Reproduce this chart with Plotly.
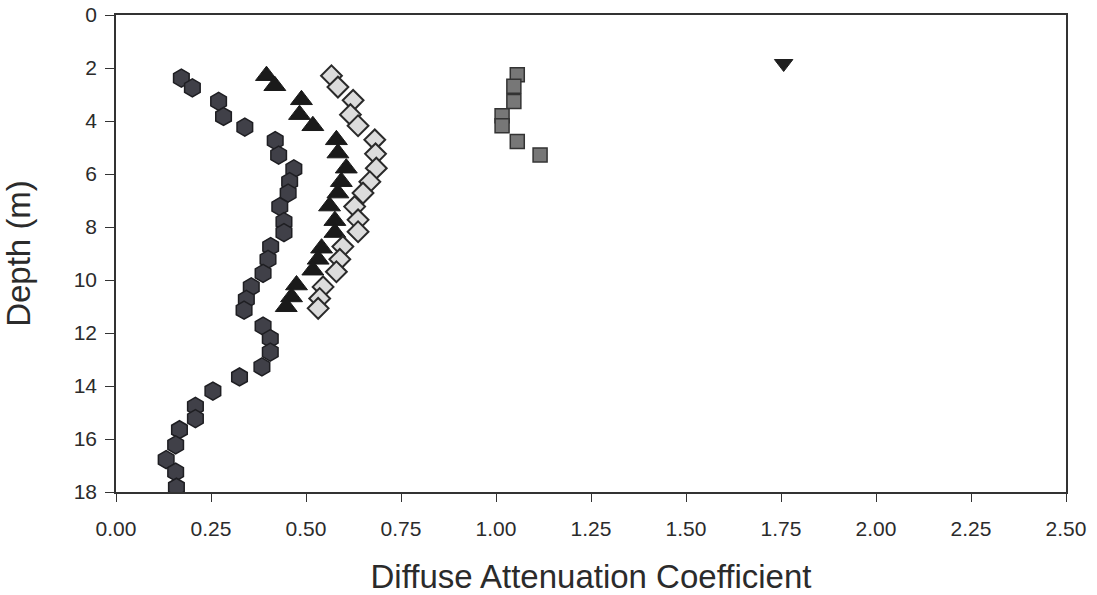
import plotly.graph_objects as go

# Series 1: hexagons (dark)
hex_kd = [0.172, 0.201, 0.270, 0.283, 0.339, 0.419, 0.428, 0.468, 0.457, 0.453,
          0.431, 0.442, 0.442, 0.407, 0.400, 0.387, 0.356, 0.343, 0.337, 0.387,
          0.406, 0.406, 0.384, 0.325, 0.255, 0.209, 0.209, 0.167, 0.157, 0.132,
          0.157, 0.159]
hex_depth = [2.38, 2.75, 3.26, 3.83, 4.23, 4.74, 5.29, 5.81, 6.29, 6.72,
             7.23, 7.80, 8.21, 8.74, 9.22, 9.75, 10.26, 10.73, 11.14, 11.74,
             12.21, 12.72, 13.28, 13.66, 14.19, 14.77, 15.23, 15.65, 16.22, 16.78,
             17.25, 17.82]

# Series 2: triangles (black)
tri_kd = [0.396, 0.418, 0.488, 0.483, 0.518, 0.580, 0.584, 0.606, 0.593, 0.584,
          0.562, 0.576, 0.576, 0.541, 0.532, 0.518, 0.475, 0.462, 0.448]
tri_depth = [2.29, 2.67, 3.20, 3.76, 4.18, 4.71, 5.21, 5.78, 6.29, 6.72,
             7.21, 7.76, 8.21, 8.80, 9.22, 9.63, 10.19, 10.64, 11.01]

# Series 3: diamonds (light gray)
dia_kd = [0.567, 0.584, 0.624, 0.617, 0.637, 0.681, 0.683, 0.685, 0.668, 0.650,
          0.628, 0.637, 0.637, 0.597, 0.589, 0.580, 0.545, 0.536, 0.532]
dia_depth = [2.29, 2.72, 3.22, 3.76, 4.18, 4.71, 5.24, 5.78, 6.29, 6.72,
             7.23, 7.73, 8.18, 8.74, 9.22, 9.69, 10.26, 10.70, 11.07]

# Series 4: squares (gray)
sq_kd = [1.056, 1.047, 1.047, 1.016, 1.016, 1.056, 1.116]
sq_depth = [2.25, 2.69, 3.26, 3.80, 4.18, 4.77, 5.28]

# Series 5: inverted triangle
inv_kd = [1.757]
inv_depth = [1.83]

x_ticks = [0.00, 0.25, 0.50, 0.75, 1.00, 1.25, 1.50, 1.75, 2.00, 2.25, 2.50]
x_tick_labels = ["0.00", "0.25", "0.50", "0.75", "1.00", "1.25", "1.50", "1.75", "2.00", "2.25", "2.50"]
y_ticks = [0, 2, 4, 6, 8, 10, 12, 14, 16, 18]

fig = go.Figure()

fig.add_trace(go.Scatter(
    x=hex_kd, y=hex_depth, mode="markers",
    marker=dict(symbol="hexagon", size=18, color="#404048",
                line=dict(color="#1e1e22", width=1.5)),
))
fig.add_trace(go.Scatter(
    x=tri_kd, y=tri_depth, mode="markers",
    marker=dict(symbol="triangle-up", size=19, color="#1a1a1a",
                line=dict(color="#1a1a1a", width=1)),
))
fig.add_trace(go.Scatter(
    x=dia_kd, y=dia_depth, mode="markers",
    marker=dict(symbol="diamond", size=16, color="#dcdcdc",
                line=dict(color="#2a2a2a", width=2)),
))
fig.add_trace(go.Scatter(
    x=sq_kd, y=sq_depth, mode="markers",
    marker=dict(symbol="square", size=14, color="#777777",
                line=dict(color="#333333", width=1.5)),
))
fig.add_trace(go.Scatter(
    x=inv_kd, y=inv_depth, mode="markers",
    marker=dict(symbol="triangle-down", size=16, color="#1f1f1f",
                line=dict(color="#1f1f1f", width=1)),
))

fig.update_layout(
    width=1097, height=595,
    margin=dict(l=116, r=31, t=15, b=103),
    paper_bgcolor="white", plot_bgcolor="white",
    showlegend=False,
    font=dict(family="Liberation Sans, Arial, sans-serif", color="#2b2b2b", size=21),
    xaxis=dict(
        range=[0, 2.5], tickvals=x_ticks, ticktext=x_tick_labels,
        automargin=False, ticklabeloverflow="allow",
        showgrid=False, zeroline=False,
        showline=True, linecolor="#333333", linewidth=1.5, mirror=True,
        ticks="outside", ticklen=8, tickwidth=1.2, tickcolor="#333333",
        tickfont=dict(size=21), ticklabelstandoff=9,
        title=dict(text="Diffuse Attenuation Coefficient", font=dict(size=33), standoff=27),
    ),
    yaxis=dict(
        range=[18, 0], tickvals=y_ticks,
        automargin=False, ticklabeloverflow="allow",
        showgrid=False, zeroline=False,
        showline=True, linecolor="#333333", linewidth=1.5, mirror=True,
        ticks="outside", ticklen=9, tickwidth=1.2, tickcolor="#333333",
        tickfont=dict(size=21), ticklabelstandoff=4,
        title=dict(text="Depth (m)", font=dict(size=33), standoff=36),
    ),
)

fig.write_html("out.html", config={"displayModeBar": False},
               post_script="document.body.style.margin='0';")
